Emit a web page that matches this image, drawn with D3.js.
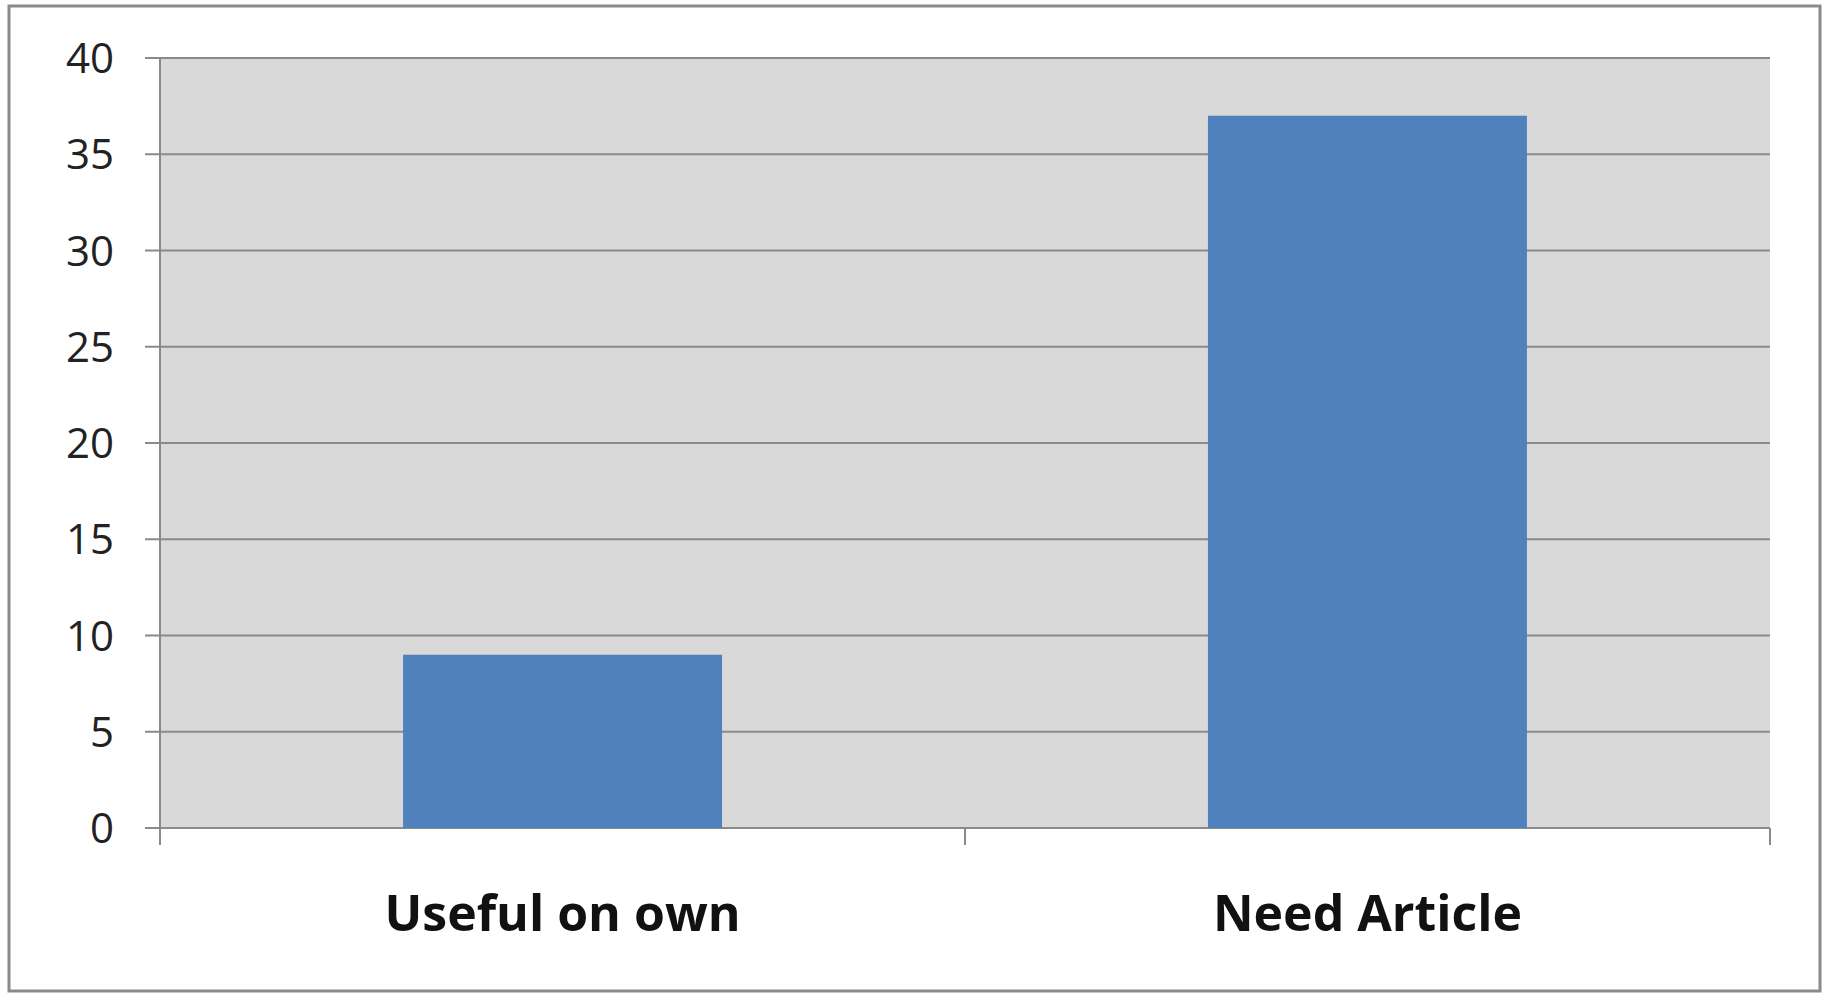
<!DOCTYPE html>
<html>
<head>
    <title>Useful on own vs Need Article</title>
    <script src="https://d3js.org/d3.v7.min.js"></script>
    <style>
        body { margin: 0; background: #fff; }
        .ylab { font-family: 'Open Sans', sans-serif; font-size: 42px; fill: #222; }
        .xlab { font-family: 'Open Sans', sans-serif; font-size: 50px; font-weight: bold; fill: #111; }
    </style>
</head>
<body>
    <svg id="chart" width="1826" height="994"></svg>
    <script>
        var categories = ["Useful on own", "Need Article"];
        var values = [9, 37];
        var yTicks = [0, 5, 10, 15, 20, 25, 30, 35, 40];

        var svg = d3.select("#chart");
        // plot area edges (top is a reserved window name, so pTop etc.)
        var pLeft = 160, pRight = 1770, pTop = 58, pBottom = 828;

        // outer chart border
        svg.append("rect")
            .attr("x", 9).attr("y", 6)
            .attr("width", 1811).attr("height", 985)
            .attr("fill", "#fff")
            .attr("stroke", "#8a8a8a")
            .attr("stroke-width", 3);

        var x = d3.scaleBand()
            .domain(categories)
            .range([pLeft, pRight])
            .paddingInner(0.6037)
            .paddingOuter(0.302);

        var y = d3.scaleLinear()
            .domain([0, 40])
            .range([pBottom, pTop]);

        // plot background
        svg.append("rect")
            .attr("x", pLeft).attr("y", pTop)
            .attr("width", pRight - pLeft).attr("height", pBottom - pTop)
            .attr("fill", "#d9d9d9");

        // gridlines + y ticks
        svg.selectAll(".grid").data(yTicks).enter().append("line")
            .attr("class", "grid")
            .attr("x1", pLeft - 15).attr("x2", pRight)
            .attr("y1", function(d) { return y(d); })
            .attr("y2", function(d) { return y(d); })
            .attr("stroke", "#8a8a8a")
            .attr("stroke-width", 2);

        svg.selectAll(".ylab").data(yTicks).enter().append("text")
            .attr("class", "ylab")
            .attr("x", 114)
            .attr("y", function(d) { return y(d); })
            .attr("dy", "0.36em")
            .attr("text-anchor", "end")
            .text(function(d) { return d; });

        // bars
        svg.selectAll(".bar").data(values).enter().append("rect")
            .attr("class", "bar")
            .attr("x", function(d, i) { return x(categories[i]); })
            .attr("y", function(d) { return y(d); })
            .attr("width", x.bandwidth())
            .attr("height", function(d) { return y(0) - y(d); })
            .attr("fill", "#4f81bd");

        // y axis line
        svg.append("line")
            .attr("x1", pLeft).attr("x2", pLeft)
            .attr("y1", pTop).attr("y2", pBottom + 17)
            .attr("stroke", "#8a8a8a").attr("stroke-width", 2);

        // category boundary ticks: edges and between the two categories
        var xTicks = [pLeft, (pLeft + pRight) / 2, pRight];
        svg.selectAll(".xtick").data(xTicks).enter().append("line")
            .attr("class", "xtick")
            .attr("x1", function(d) { return d; })
            .attr("x2", function(d) { return d; })
            .attr("y1", pBottom).attr("y2", pBottom + 17)
            .attr("stroke", "#8a8a8a").attr("stroke-width", 2);

        svg.selectAll(".xlab").data(categories).enter().append("text")
            .attr("class", "xlab")
            .attr("x", function(d) { return x(d) + x.bandwidth() / 2; })
            .attr("y", 931)
            .attr("text-anchor", "middle")
            .text(function(d) { return d; });
    </script>
</body>
</html>
